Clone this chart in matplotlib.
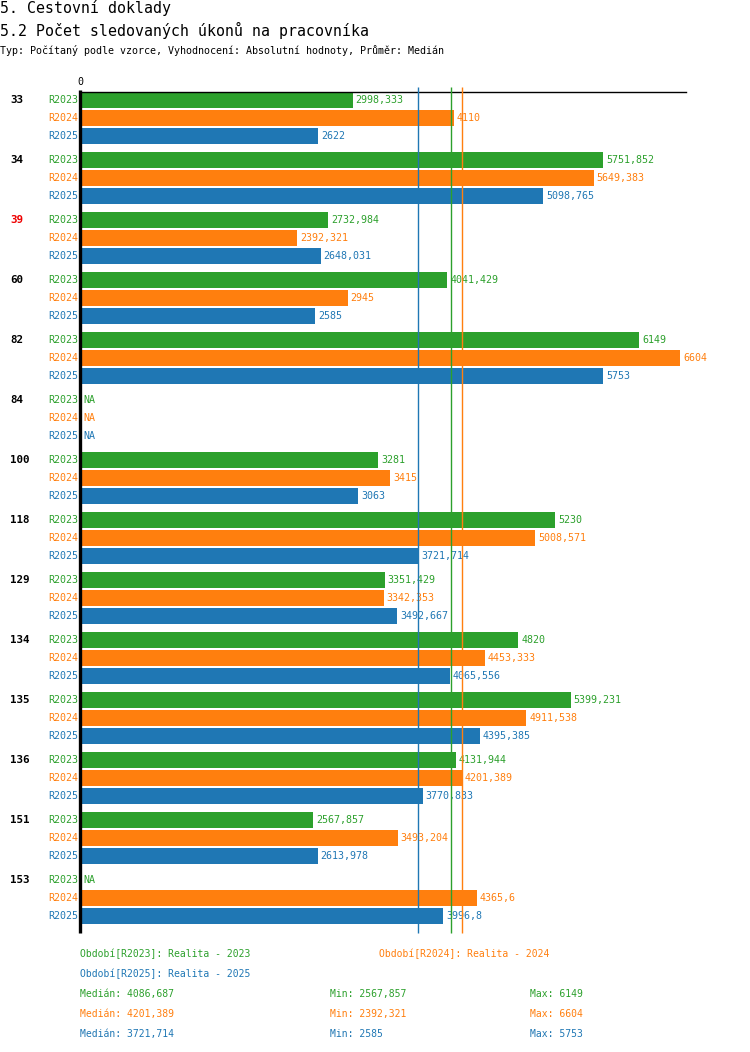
import matplotlib
matplotlib.use("Agg")
import matplotlib.pyplot as plt
import numpy as np

categories = ["33", "34", "39", "60", "82", "84", "100", "118", "129", "134", "135", "136", "151", "153"]
series = ["R2023", "R2024", "R2025"]
r2023 = [2998.333, 5751.852, 2732.984, 4041.429, 6149, None, 3281, 5230, 3351.429, 4820, 5399.231, 4131.944, 2567.857, None]
r2024 = [4110, 5649.383, 2392.321, 2945, 6604, None, 3415, 5008.571, 3342.353, 4453.333, 4911.538, 4201.389, 3493.204, 4365.6]
r2025 = [2622, 5098.765, 2648.031, 2585, 5753, None, 3063, 3721.714, 3492.667, 4065.556, 4395.385, 3770.833, 2613.978, 3996.8]
values = [r2023, r2024, r2025]
colors = ["#2ca02c", "#ff7f0e", "#1f77b4"]
red_cats = ["39"]
legend_texts = ["Období[R2023]: Realita - 2023", "Období[R2024]: Realita - 2024", "Období[R2025]: Realita - 2025"]

def fmt(v):
    s = f"{v:.3f}".rstrip("0").rstrip(".")
    return s.replace(".", ",")

W, H = 750, 1052
fig = plt.figure(figsize=(W/100, H/100), dpi=100)
mono = "DejaVu Sans Mono"

ax_left, ax_right, ax_top, ax_bot = 80, 686, 92, 933
ax = fig.add_axes([ax_left/W, 1-ax_bot/H, (ax_right-ax_left)/W, (ax_bot-ax_top)/H])
px_per_unit = 0.0909
xmax = (ax_right-ax_left)/px_per_unit
ax.set_xlim(0, xmax)
ax.set_ylim(ax_bot, ax_top)
for s in ["right", "bottom", "left"]:
    ax.spines[s].set_visible(False)
ax.spines["top"].set_linewidth(1.0)
ax.set_xticks([])
ax.set_yticks([])
ax.patch.set_alpha(0)
# left axis line, slightly extending above the top line
ax.plot([0, 0], [ax_bot, ax_top - 2], color="black", lw=2.4, clip_on=False, zorder=5,
        solid_capstyle="butt")

group_h = 60
first = 100
bar_step = 18
bar_h = 16
x0 = 1.2/px_per_unit

stats = []
for vals in values:
    arr = np.array([v for v in vals if v is not None], dtype=float)
    stats.append((np.median(arr), arr.min(), arr.max()))

for j in [2, 0, 1]:
    ax.plot([stats[j][0]]*2, [ax_bot, ax_top - 5], color=colors[j], lw=1.0, zorder=4,
            clip_on=False, solid_capstyle="butt")

for i, cat in enumerate(categories):
    yc0 = first + group_h*i
    fig.text(10/W, 1-yc0/H, cat, fontsize=7.8, fontweight="bold", family=mono,
             color=("#ee0000" if cat in red_cats else "black"), va="center", ha="left")
    for j in range(3):
        yc = yc0 + bar_step*j
        v = values[j][i]
        fig.text(78/W, 1-yc/H, series[j], fontsize=7.2, family=mono, color=colors[j],
                 va="center", ha="right")
        if v is None:
            ax.text(3.5/px_per_unit, yc, "NA", fontsize=7.2, family=mono, color=colors[j],
                    va="center", ha="left", zorder=3)
        else:
            ax.barh(yc, v - x0, left=x0, height=bar_h, color=colors[j], zorder=2)
            ax.text(v + 3/px_per_unit, yc, fmt(v), fontsize=7.2, family=mono, color=colors[j],
                    va="center", ha="left", zorder=3)

fig.text(77/W, 1-82/H, "0", fontsize=7.2, family=mono, va="center", ha="left")

fig.text(0, 1-8/H, "5. Cestovní doklady", fontsize=10.7, family=mono, va="center", ha="left")
fig.text(0, 1-30/H, "5.2 Počet sledovaných úkonů na pracovníka", fontsize=10.7, family=mono, va="center", ha="left")
fig.text(0, 1-50/H, "Typ: Počítaný podle vzorce, Vyhodnocení: Absolutní hodnoty, Průměr: Medián",
         fontsize=7.2, family=mono, va="center", ha="left")

fig.text(80/W, 1-954/H, legend_texts[0], fontsize=7.0, family=mono, color=colors[0], va="center", ha="left")
fig.text(379/W, 1-954/H, legend_texts[1], fontsize=7.0, family=mono, color=colors[1], va="center", ha="left")
fig.text(80/W, 1-974/H, legend_texts[2], fontsize=7.0, family=mono, color=colors[2], va="center", ha="left")
for j in range(3):
    yy = 994 + 20*j
    med, mn, mx = stats[j]
    fig.text(80/W, 1-yy/H, "Medián: " + fmt(med), fontsize=7.0, family=mono, color=colors[j], va="center", ha="left")
    fig.text(330/W, 1-yy/H, "Min: " + fmt(mn), fontsize=7.0, family=mono, color=colors[j], va="center", ha="left")
    fig.text(530/W, 1-yy/H, "Max: " + fmt(mx), fontsize=7.0, family=mono, color=colors[j], va="center", ha="left")

fig.savefig("out.png", dpi=100)
